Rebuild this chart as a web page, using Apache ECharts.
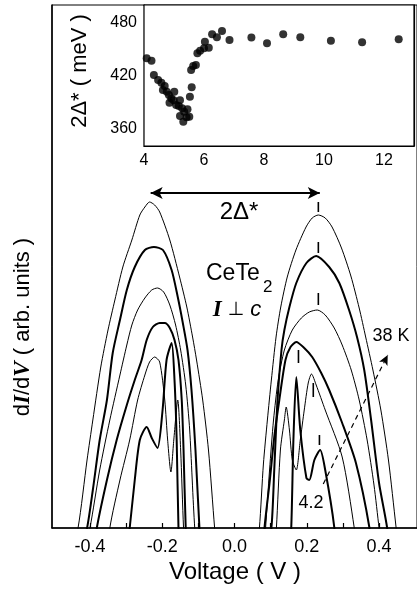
<!DOCTYPE html>
<html>
<head>
<meta charset="utf-8">
<script src="https://cdn.jsdelivr.net/npm/echarts@6/dist/echarts.min.js"></script>
<style>
html,body{margin:0;padding:0;background:#fff}
#chart{width:417px;height:593px}
</style>
</head>
<body>
<div id="chart"></div>
<script>
// dI/dV spectra of CeTe2 (I perpendicular to c), traces offset vertically,
// top trace = 38 K, bottom trace = 4.2 K. Pairs are [voltage (V), dI/dV (arb. units)].
const trace1 = [[-0.45,-0.17],[-0.433,0],[-0.408,0.68],[-0.392,1.08],[-0.37,1.61],[-0.35,1.98],[-0.331,2.28],[-0.309,2.61],[-0.284,2.88],[-0.262,3.13],[-0.248,3.21],[-0.235,3.26],[-0.221,3.23],[-0.207,3.16],[-0.179,2.88],[-0.152,2.51],[-0.132,2.21],[-0.116,1.91],[-0.105,1.68],[-0.088,1.28],[-0.072,0.78],[-0.055,0],[-0.047,-0.3],[0,-1],[0.06,-0.3],[0.069,0],[0.08,0.64],[0.091,1.08],[0.102,1.48],[0.115,1.91],[0.128,2.21],[0.146,2.51],[0.17,2.78],[0.198,3.01],[0.215,3.1],[0.232,3.13],[0.251,3.1],[0.27,3.01],[0.296,2.8],[0.322,2.52],[0.345,2.2],[0.363,1.91],[0.383,1.58],[0.405,1.18],[0.426,0.68],[0.447,0.01],[0.46,-0.4]];
const trace2 = [[-0.43,-0.3],[-0.408,0],[-0.392,0.38],[-0.373,0.88],[-0.353,1.28],[-0.337,1.75],[-0.317,2.08],[-0.298,2.38],[-0.276,2.61],[-0.248,2.78],[-0.223,2.81],[-0.198,2.78],[-0.174,2.58],[-0.157,2.31],[-0.143,2.05],[-0.13,1.78],[-0.119,1.38],[-0.108,0.78],[-0.097,0],[-0.09,-0.3],[0,-1],[0.085,-0.3],[0.102,0],[0.11,0.58],[0.119,1.28],[0.13,1.78],[0.138,1.98],[0.152,2.21],[0.171,2.45],[0.199,2.65],[0.226,2.72],[0.262,2.61],[0.29,2.45],[0.317,2.18],[0.339,1.91],[0.359,1.58],[0.378,1.08],[0.4,0.45],[0.422,0.01],[0.43,-0.3]];
const trace3 = [[-0.42,-0.3],[-0.4,0],[-0.373,0.58],[-0.345,1.08],[-0.317,1.53],[-0.298,1.83],[-0.284,2.03],[-0.268,2.18],[-0.248,2.3],[-0.229,2.38],[-0.213,2.4],[-0.196,2.36],[-0.179,2.23],[-0.163,2.03],[-0.149,1.78],[-0.135,1.43],[-0.124,0.98],[-0.11,0],[-0.1,-0.3],[0,-1],[0.08,-0.3],[0.086,0],[0.097,0.58],[0.108,1.08],[0.121,1.48],[0.138,1.78],[0.16,1.98],[0.185,2.1],[0.207,2.16],[0.229,2.18],[0.251,2.13],[0.276,2.0],[0.298,1.83],[0.323,1.58],[0.345,1.28],[0.367,0.88],[0.386,0.43],[0.4,0],[0.41,-0.3]];
const trace4 = [[-0.39,-0.3],[-0.381,0],[-0.353,0.48],[-0.326,0.88],[-0.298,1.23],[-0.276,1.48],[-0.257,1.68],[-0.243,1.88],[-0.226,2.01],[-0.207,2.05],[-0.193,2.05],[-0.179,2.0],[-0.166,1.88],[-0.155,1.68],[-0.146,1.28],[-0.141,0.78],[-0.135,0],[-0.13,-0.3],[0,-1],[0.08,-0.3],[0.083,0],[0.097,0.45],[0.11,0.91],[0.124,1.28],[0.141,1.68],[0.155,1.81],[0.171,1.86],[0.193,1.8],[0.215,1.71],[0.24,1.55],[0.262,1.38],[0.298,1.05],[0.336,0.65],[0.373,0.01],[0.38,-0.3]];
const trace5 = [[-0.35,-0.3],[-0.345,0],[-0.317,0.48],[-0.29,0.88],[-0.268,1.28],[-0.248,1.53],[-0.235,1.66],[-0.221,1.71],[-0.207,1.66],[-0.193,1.28],[-0.185,0.88],[-0.176,0.56],[-0.168,0.88],[-0.157,1.28],[-0.149,0.78],[-0.141,0],[-0.135,-0.3],[0,-1],[0.11,-0.3],[0.116,0],[0.127,0.78],[0.138,1.08],[0.143,1.21],[0.152,0.98],[0.16,0.68],[0.171,0.58],[0.182,0.88],[0.193,1.18],[0.204,1.45],[0.213,1.54],[0.226,1.43],[0.251,1.18],[0.298,0.71],[0.331,0.01],[0.34,-0.3]];
const trace6 = [[-0.3,-0.3],[-0.29,0],[-0.276,0.48],[-0.262,0.88],[-0.243,1.01],[-0.229,0.9],[-0.213,0.8],[-0.199,1.18],[-0.188,1.68],[-0.174,1.85],[-0.166,1.48],[-0.16,0.88],[-0.155,0],[-0.15,-0.3],[0,-1],[0.15,-0.3],[0.157,0],[0.163,0.88],[0.171,1.51],[0.182,0.98],[0.199,0.5],[0.207,0.48],[0.221,0.68],[0.237,0.78],[0.251,0.58],[0.276,0.01],[0.28,-0.3]];
const traceWidths = [1, 2, 1, 2, 1, 2];

// Gap-edge markers: [voltage, lower end, upper end]
const gapMarks = [[0.232,3.16,3.26],[0.232,2.75,2.86],[0.232,2.23,2.35],[0.177,1.65,1.78],[0.218,1.31,1.45],[0.235,0.83,0.93]];
// 2Δ* double arrow: [left V, right V, level]
const gapArrow = [-0.232, 0.236, 3.35];
// temperature arrow from 4.2 K to 38 K: [V, level]
const tempArrowFrom = [0.2456, 0.44];
const tempArrowTo = [0.424, 1.73];

// main axis ticks / labels
const voltTicks = [-0.4,-0.3,-0.2,-0.1,0,0.1,0.2,0.3,0.4];
const voltLabels = [-0.4,-0.2,0,0.2,0.4];

// inset: 2Δ* (meV) vs x
const insetX = [4.09,4.25,4.33,4.47,4.58,4.69,4.63,4.76,4.83,4.91,4.85,5.01,4.99,5.07,5.20,5.16,5.27,5.20,5.34,5.45,5.31,5.42,5.51,5.53,5.59,5.57,5.64,5.73,5.78,5.87,6.00,6.16,6.03,6.27,6.43,6.60,6.85,7.58,8.10,8.64,9.21,10.23,11.27,12.49];
const insetGap = [439.5,436.8,420.6,414.9,411.8,408,403.5,401.6,397.8,394,389,401.6,392,386.5,392,385.3,382.7,374,378.9,381.6,367.5,372.5,373.2,395.9,406.6,426.3,430.8,432,445.2,448.2,450.9,451.6,458.4,466.8,463.4,470.6,460.3,463,456.6,466.8,463.4,459.5,457.7,461.1];
const insetYTicks = [360,390,420,450,480];
const insetYLabels = [360,420,480];

const FONT = 'Liberation Sans, Arial, Helvetica, sans-serif';
const SERIF = 'Liberation Serif, Times New Roman, serif';

const chart = echarts.init(document.getElementById('chart'), null, {renderer: 'canvas'});

const traces = [trace1, trace2, trace3, trace4, trace5, trace6];
const series = traces.map((d, i) => ({
  type: 'line', xAxisIndex: 0, yAxisIndex: 0, data: d,
  showSymbol: false, smooth: 0.25, clip: true,
  lineStyle: {color: '#000', width: traceWidths[i]},
  silent: true, z: 3
}));

series[0].markLine = {
  silent: true, animation: false,
  label: {show: false},
  symbolSize: [9, 12],
  data: [
    [{coord: [gapArrow[0], gapArrow[2]], symbol: 'arrow', lineStyle: {color: '#000', width: 2, type: 'solid'}},
     {coord: [gapArrow[1], gapArrow[2]], symbol: 'arrow'}],
    [{coord: tempArrowFrom, symbol: 'none', lineStyle: {color: '#000', width: 1.2, type: [5, 4]}},
     {coord: tempArrowTo, symbol: 'arrow', symbolSize: [7, 10]}]
  ]
};

series.push({
  type: 'custom', xAxisIndex: 0, yAxisIndex: 0, data: gapMarks, silent: true, z: 4,
  encode: {x: 0, y: [1, 2]},
  renderItem: (params, api) => {
    const a = api.coord([api.value(0), api.value(1)]);
    const b = api.coord([api.value(0), api.value(2)]);
    return {type: 'line', shape: {x1: a[0], y1: a[1], x2: b[0], y2: b[1]},
            style: {stroke: '#000', lineWidth: 1.6}};
  }
});

series.push({
  type: 'scatter', xAxisIndex: 1, yAxisIndex: 1,
  data: insetX.map((x, i) => [x, insetGap[i]]),
  symbol: 'circle', symbolSize: 8, itemStyle: {color: '#000'}, silent: true, z: 5
});

const option = {
  animation: false,
  backgroundColor: '#fff',
  grid: [
    {left: 52, top: 5, width: 366, height: 523, show: true, borderColor: '#000', borderWidth: 1, backgroundColor: 'transparent', z: 0},
    {left: 144, top: 5, width: 275, height: 141, show: true, borderColor: '#000', borderWidth: 1.2, backgroundColor: '#fff', z: 1}
  ],
  xAxis: [
    {gridIndex: 0, type: 'value', min: -0.505, max: 0.505,
     axisLine: {show: true, onZero: false, lineStyle: {color: '#000', width: 1.5}},
     axisTick: {show: true, inside: true, length: 5, customValues: voltTicks, lineStyle: {color: '#000', width: 1.2}},
     axisLabel: {show: true, margin: 10, customValues: voltLabels, color: '#000', fontFamily: FONT, fontSize: 18,
                 formatter: v => v.toFixed(1)},
     splitLine: {show: false}},
    {gridIndex: 1, type: 'value', min: 4, max: 13, interval: 1, position: 'bottom',
     axisLine: {show: true, onZero: false, lineStyle: {color: '#000', width: 1.2}},
     axisTick: {show: true, inside: true, length: 4, lineStyle: {color: '#000'}},
     axisLabel: {show: true, margin: 7, color: '#000', fontFamily: FONT, fontSize: 16,
                 formatter: v => (v % 2 === 0 && v < 13) ? String(v) : ''},
     splitLine: {show: false}},
    {gridIndex: 1, type: 'value', min: 4, max: 13, interval: 1, position: 'top',
     axisLine: {show: true, onZero: false, lineStyle: {color: '#000', width: 1.2}},
     axisTick: {show: true, inside: true, length: 4, lineStyle: {color: '#000'}},
     axisLabel: {show: false}, splitLine: {show: false}}
  ],
  yAxis: [
    {gridIndex: 0, type: 'value', min: 0, max: 5.23,
     axisLine: {show: true, onZero: false, lineStyle: {color: '#000', width: 1.5}},
     axisTick: {show: false}, axisLabel: {show: false}, splitLine: {show: false}},
    {gridIndex: 1, type: 'value', min: 340, max: 500, position: 'left',
     axisLine: {show: true, onZero: false, lineStyle: {color: '#000', width: 1.2}},
     axisTick: {show: true, inside: true, length: 4, customValues: insetYTicks, lineStyle: {color: '#000'}},
     axisLabel: {show: true, margin: 7, customValues: insetYLabels, color: '#000', fontFamily: FONT, fontSize: 16},
     splitLine: {show: false}},
    {gridIndex: 1, type: 'value', min: 340, max: 500, position: 'right',
     axisLine: {show: true, onZero: false, lineStyle: {color: '#000', width: 1.2}},
     axisTick: {show: true, inside: true, length: 4, customValues: insetYTicks, lineStyle: {color: '#000'}},
     axisLabel: {show: false}, splitLine: {show: false}}
  ],
  series: series,
  graphic: [
    {type: 'text', x: 235, y: 572, style: {text: 'Voltage ( V )', font: '24px ' + FONT, fill: '#000', textAlign: 'center', textVerticalAlign: 'middle'}},
    {type: 'text', x: 23, y: 327, rotation: Math.PI / 2,
     style: {text: '{r|d}{i|I}{r|/d}{i|V}{r| ( arb. units )}', textAlign: 'center', textVerticalAlign: 'middle', fill: '#000',
             rich: {r: {fontFamily: FONT, fontSize: 22}, i: {fontFamily: SERIF, fontSize: 23, fontWeight: 'bold', fontStyle: 'italic'}}}},
    {type: 'text', x: 80, y: 71, rotation: Math.PI / 2,
     style: {text: '2Δ* ( meV )', font: '22px ' + FONT, fill: '#000', textAlign: 'center', textVerticalAlign: 'middle'}},
    {type: 'text', x: 239, y: 212, style: {text: '2Δ*', font: '24px ' + FONT, fill: '#000', textAlign: 'center', textVerticalAlign: 'middle'}},
    {type: 'text', x: 206, y: 274, style: {text: 'CeTe', font: '23px ' + FONT, fill: '#000', textAlign: 'left', textVerticalAlign: 'middle'}},
    {type: 'text', x: 263, y: 287, style: {text: '2', font: '17px ' + FONT, fill: '#000', textAlign: 'left', textVerticalAlign: 'middle'}},
    {type: 'text', x: 237, y: 310,
     style: {text: '{i|I}{r| ⊥ }{c|c}', textAlign: 'center', textVerticalAlign: 'middle', fill: '#000',
             rich: {i: {fontFamily: SERIF, fontSize: 23, fontWeight: 'bold', fontStyle: 'italic'},
                    r: {fontFamily: 'DejaVu Sans, ' + FONT, fontSize: 19},
                    c: {fontFamily: FONT, fontSize: 22, fontStyle: 'italic'}}}},
    {type: 'text', x: 391, y: 336, style: {text: '38 K', font: '18px ' + FONT, fill: '#000', textAlign: 'center', textVerticalAlign: 'middle'}},
    {type: 'text', x: 311, y: 503, style: {text: '4.2', font: '18px ' + FONT, fill: '#000', textAlign: 'center', textVerticalAlign: 'middle'}}
  ]
};
chart.setOption(option);
</script>
</body>
</html>
